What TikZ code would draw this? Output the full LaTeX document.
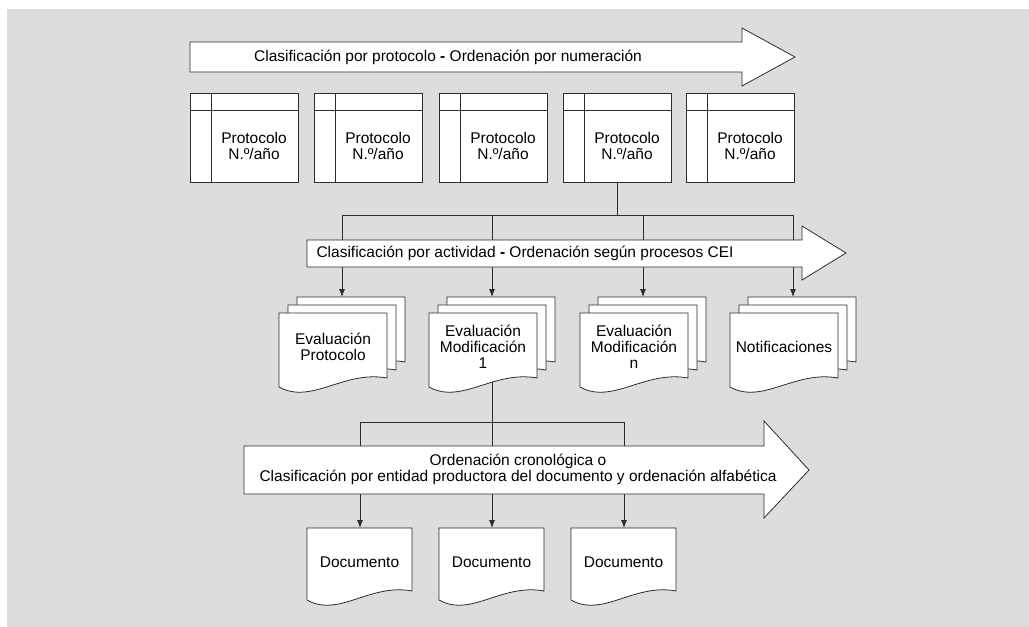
\documentclass[tikz,border=0pt]{standalone}
\usepackage{fontspec}
\setmainfont{Liberation Sans}
\usetikzlibrary{arrows.meta}
\definecolor{bg}{RGB}{220,221,223}
\definecolor{ln}{RGB}{45,45,45}
\tikzset{
  outline/.style={draw=ln, line width=0.8pt, fill=white, line join=miter},
  conn/.style={draw=ln, line width=0.8pt},
  arr/.style={conn, -{Latex[length=8pt,width=6pt]}},
  lbl/.style={font=\fontsize{15.5}{16}\selectfont, inner sep=0pt, align=center, text=black},
  protobox/.style={outline, rectangle, minimum width=108pt, minimum height=89pt, inner sep=0pt},
}
% document shape: #1 left, #2 top, #3 width, #4 left height
\newcommand\docsh[4]{%
  \draw[outline, shift={(#1,#2)}] (0,0) -- (#3,0) -- (#3,#4-9)
    .. controls ({0.6*#3},#4-17) and ({0.3*#3},#4+18) .. (0,#4) -- cycle;}
\begin{document}
\begin{tikzpicture}[x=1pt, y=-1pt]
\useasboundingbox (0,0) rectangle (1029,627);
\fill[bg] (7,9) rectangle (1029,627);

% ---------- coordinates ----------
\coordinate (j1) at (617,215);
\coordinate (h1L) at (342,215);
\coordinate (h1R) at (793,215);
\coordinate (st1) at (342,297);
\coordinate (st2) at (492,297);
\coordinate (st3) at (643,297);
\coordinate (st4) at (793,297);
\coordinate (d1) at (492,215);
\coordinate (d2) at (643,215);
\coordinate (m2) at (492,378);
\coordinate (j2) at (492,422);
\coordinate (h2L) at (360,422);
\coordinate (h2R) at (624,422);
\coordinate (dt1) at (360,528);
\coordinate (dt2) at (492,528);
\coordinate (dt3) at (624,528);

% ---------- protocol boxes ----------
\foreach \L/\n in {190/p1, 314/p2, 439/p3, 563/p4, 686/p5}{
  \node[protobox] (\n) at (\L+54,137.5) {};
  \draw[conn] (\L+21,93) -- (\L+21,182);
  \draw[conn] (\L,110) -- (\L+108,110);
  \node[lbl] (\n t) at (\L+64,146) {Protocolo\\N.º/año};
}

% ---------- connectors level 1 ----------
\draw[conn] (p4.south) -- (j1);
\draw[conn] (h1L) -- (h1R);
\draw[arr] (h1L) -- (st1);
\draw[arr] (d1) -- (st2);
\draw[arr] (d2) -- (st3);
\draw[arr] (h1R) -- (st4);

% ---------- connectors level 2 ----------
\draw[conn] (m2) -- (j2);
\draw[conn] (h2L) -- (h2R);
\draw[arr] (h2L) -- (dt1);
\draw[arr] (j2) -- (dt2);
\draw[arr] (h2R) -- (dt3);

% ---------- big arrows ----------
\draw[outline] (190,42) -- (742,42) -- (742,28) -- (795,57) -- (742,86) -- (742,72) -- (190,72) -- cycle;
\node[lbl] (a1) at (448,57) {Clasificación por protocolo \textbf{-} Ordenación por numeración};

\draw[outline] (307,240) -- (802,240) -- (802,226) -- (846,253) -- (802,280) -- (802,267) -- (307,267) -- cycle;
\node[lbl] (a2) at (525,253) {Clasificación por actividad \textbf{-} Ordenación según procesos CEI};

\draw[outline] (244,446) -- (764,446) -- (764,421) -- (809,470) -- (764,518) -- (764,494) -- (244,494) -- cycle;
\node[lbl] (a3) at (518,469) {Ordenación cronológica o\\Clasificación por entidad productora del documento y ordenación alfabética};

% ---------- document stacks ----------
\foreach \ax/\n/\txt in {342/s1/{Evaluación\\Protocolo},
                         492/s2/{Evaluación\\Modificación\\1},
                         643/s3/{Evaluación\\Modificación\\n},
                         793/s4/{Notificaciones}}{
  \docsh{\ax-45}{297}{108}{74}
  \docsh{\ax-54}{305}{108}{74}
  \docsh{\ax-63}{313}{108}{74}
  \node[lbl] (\n) at (\ax-9,347) {\txt};
}

% ---------- documents ----------
\foreach \L/\n in {307/doc1, 439/doc2, 571/doc3}{
  \docsh{\L}{528}{105}{72}
  \node[lbl] (\n) at (\L+52.5,562) {Documento};
}
\end{tikzpicture}
\end{document}
